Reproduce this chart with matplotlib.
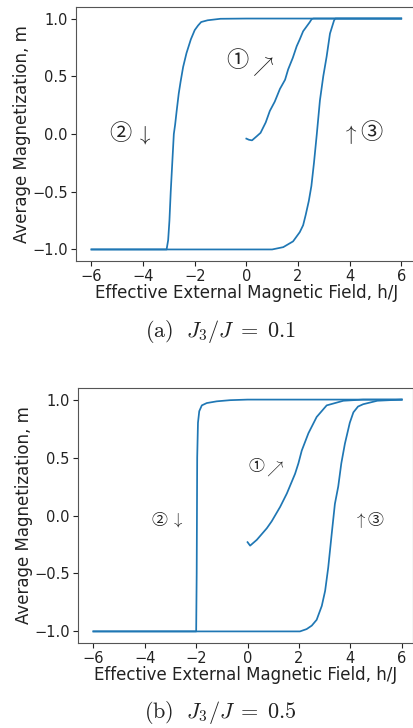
import matplotlib
matplotlib.use("Agg")
import matplotlib.pyplot as plt

plt.rcParams['mathtext.fontset'] = 'cm'
plt.rcParams['font.family'] = ['DejaVu Sans']

# ---------------- data: panel (a) J3/J = 0.1 ----------------
a_init_h = [0.0, 0.1, 0.22, 0.4, 0.55, 0.75, 0.91, 1.1, 1.3, 1.5, 1.62, 1.8, 1.95, 2.07, 2.2, 2.33, 2.46, 2.53, 2.6, 6.0]
a_init_m = [-0.04, -0.05, -0.055, -0.02, 0.01, 0.1, 0.2, 0.28, 0.39, 0.47, 0.56, 0.66, 0.76, 0.82, 0.89, 0.93, 0.97, 0.995, 1.0, 1.0]

a_down_h = [6.0, 0.0, -1.0, -1.5, -1.75, -1.87, -2.0, -2.15, -2.32, -2.45, -2.55, -2.62, -2.7, -2.76, -2.81, -2.87, -2.93, -2.98, -3.03, -3.09, -6.0]
a_down_m = [1.0, 1.0, 0.998, 0.985, 0.97, 0.94, 0.90, 0.82, 0.70, 0.58, 0.45, 0.35, 0.2, 0.08, 0.0, -0.25, -0.5, -0.75, -0.92, -1.0, -1.0]

a_up_h = [-6.0, 1.0, 1.43, 1.81, 2.07, 2.2, 2.3, 2.42, 2.52, 2.62, 2.73, 2.85, 2.98, 3.11, 3.24, 3.4, 3.45, 6.0]
a_up_m = [-1.0, -1.0, -0.98, -0.93, -0.85, -0.79, -0.7, -0.58, -0.45, -0.25, 0.0, 0.29, 0.5, 0.67, 0.87, 0.985, 1.0, 1.0]

# ---------------- data: panel (b) J3/J = 0.5 ----------------
b_init_h = [0.0, 0.1, 0.36, 0.75, 0.94, 1.27, 1.53, 1.85, 1.98, 2.11, 2.37, 2.69, 3.08, 3.73, 4.5, 6.0]
b_init_m = [-0.23, -0.26, -0.21, -0.11, -0.05, 0.075, 0.19, 0.36, 0.45, 0.56, 0.71, 0.85, 0.95, 0.99, 1.0, 1.0]

b_down_h = [6.0, 0.0, -0.68, -1.2, -1.59, -1.78, -1.88, -1.93, -1.96, -1.98, -2.0, -6.0]
b_down_m = [1.0, 1.0, 0.995, 0.985, 0.97, 0.95, 0.90, 0.80, 0.5, -0.5, -1.0, -1.0]

b_up_h = [-6.0, 2.04, 2.3, 2.5, 2.69, 2.89, 3.02, 3.14, 3.28, 3.4, 3.53, 3.65, 3.79, 3.98, 4.12, 4.3, 4.5, 5.05, 6.0]
b_up_m = [-1.0, -1.0, -0.98, -0.95, -0.9, -0.78, -0.65, -0.45, -0.15, 0.1, 0.25, 0.45, 0.62, 0.80, 0.89, 0.94, 0.96, 0.99, 1.0]

xticks = [-6, -4, -2, 0, 2, 4, 6]
yticks = [-1.0, -0.5, 0.0, 0.5, 1.0]
xlabel = "Effective External Magnetic Field, h/J"
ylabel = "Average Magnetization, m"
captions = [r"$\mathrm{(a)}\ \ J_3/J \;=\; 0.1$", r"$\mathrm{(b)}\ \ J_3/J \;=\; 0.5$"]

W, H = 414, 728
fig = plt.figure(figsize=(W / 100, H / 100), dpi=100)

color = '#1f77b4'
lw = 1.25
txtc = '#222222'

def make_axes(left, top, right, bottom):
    return fig.add_axes([left / W, 1 - bottom / H, (right - left) / W, (bottom - top) / H])

axA = make_axes(76, 7, 416.7, 261)
axB = make_axes(78, 388, 413.5, 643)

panels = [
    (axA, (a_init_h, a_init_m), (a_down_h, a_down_m), (a_up_h, a_up_m), (-6.6, 6.6)),
    (axB, (b_init_h, b_init_m), (b_down_h, b_down_m), (b_up_h, b_up_m), (-6.6, 6.46)),
]

for ax, c1, c2, c3, xl in panels:
    ax.plot(*c2, color=color, lw=lw)
    ax.plot(*c3, color=color, lw=lw)
    ax.plot(*c1, color=color, lw=lw)
    ax.set_xlim(*xl)
    ax.set_ylim(-1.1, 1.1)
    ax.set_xticks(xticks)
    ax.set_yticks(yticks)
    ax.tick_params(labelsize=10.5, colors=txtc, pad=2.5)
    ax.set_xlabel(xlabel, fontsize=12, labelpad=0, color=txtc)
    ax.set_ylabel(ylabel, fontsize=12, labelpad=1, color=txtc)
    for s in ax.spines.values():
        s.set_color('#555555')

circ = dict(family=['Noto Sans CJK JP', 'DejaVu Sans'], ha='center', va='center', color=txtc)
arr = dict(ha='center', va='center', color=txtc)

# panel (a) annotations
axA.text(-0.33, 0.64, "①", fontsize=16, **circ)
axA.text(0.60, 0.59, r"$\nearrow$", fontsize=15, **arr)
axA.text(-4.90, 0.0, "②", fontsize=16, **circ)
axA.text(-3.97, -0.01, r"$\downarrow$", fontsize=15, **arr)
axA.text(4.01, 0.0, r"$\uparrow$", fontsize=15, **arr)
axA.text(4.83, 0.01, "③", fontsize=16, **circ)

# panel (b) annotations
axB.text(0.36, 0.42, "①", fontsize=11.5, **circ)
axB.text(1.06, 0.40, r"$\nearrow$", fontsize=12, **arr)
axB.text(-3.43, -0.04, "②", fontsize=11.5, **circ)
axB.text(-2.74, -0.04, r"$\downarrow$", fontsize=12, **arr)
axB.text(4.39, -0.04, r"$\uparrow$", fontsize=12, **arr)
axB.text(4.99, -0.04, "③", fontsize=11.5, **circ)

fig.text(220 / W, 1 - 332 / H, captions[0], ha='center', va='center', fontsize=16, color=txtc)
fig.text(220 / W, 1 - 712 / H, captions[1], ha='center', va='center', fontsize=16, color=txtc)

fig.savefig("out.png", dpi=100)
